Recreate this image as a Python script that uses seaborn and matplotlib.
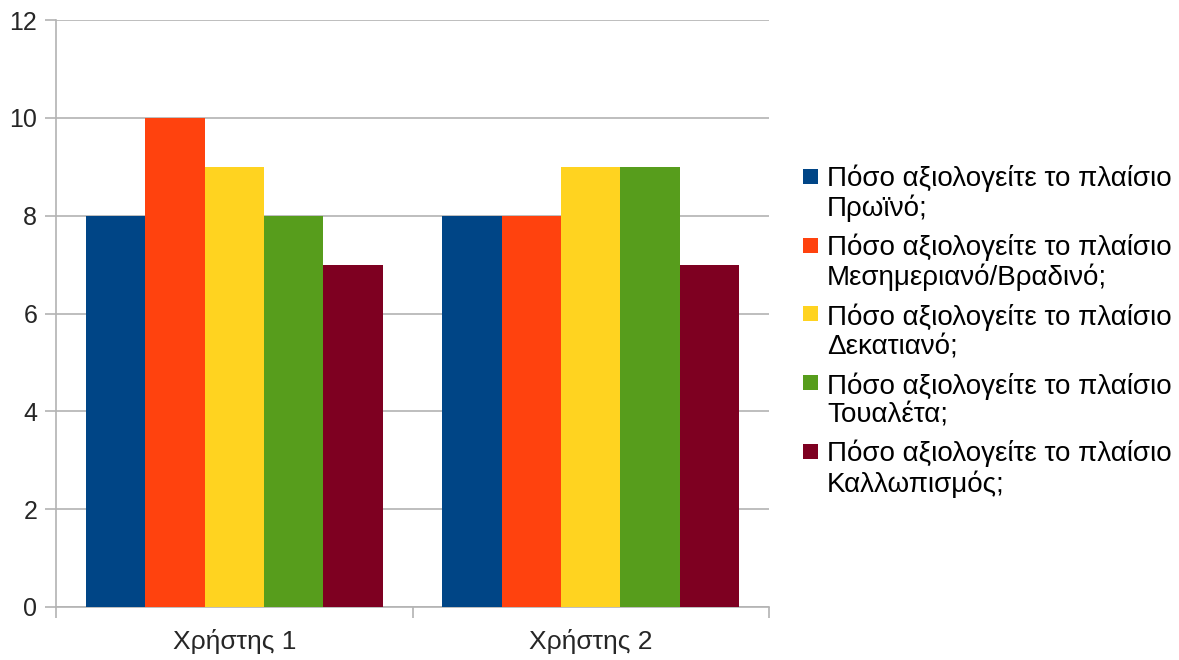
import matplotlib
matplotlib.use("Agg")
import matplotlib.pyplot as plt
from matplotlib.patches import Rectangle
import seaborn as sns
import pandas as pd

# Ratings per user for each meal/facility question
users = ["Χρήστης 1", "Χρήστης 2"]
questions = [
    "Πόσο αξιολογείτε το πλαίσιο\nΠρωϊνό;",
    "Πόσο αξιολογείτε το πλαίσιο\nΜεσημεριανό/Βραδινό;",
    "Πόσο αξιολογείτε το πλαίσιο\nΔεκατιανό;",
    "Πόσο αξιολογείτε το πλαίσιο\nΤουαλέτα;",
    "Πόσο αξιολογείτε το πλαίσιο\nΚαλλωπισμός;",
]
scores_user1 = [8, 10, 9, 8, 7]
scores_user2 = [8, 8, 9, 9, 7]
colors = ["#004586", "#ff420e", "#ffd320", "#579d1c", "#7e0021"]

rows = []
for user, scores in zip(users, [scores_user1, scores_user2]):
    for q, s in zip(questions, scores):
        rows.append({"user": user, "question": q, "score": s})
df = pd.DataFrame(rows)

sns.set_theme(style="white")
plt.rcParams["font.family"] = ["Liberation Sans", "DejaVu Sans"]

W, H = 1179, 660
fig = plt.figure(figsize=(W / 100, H / 100), dpi=100)
ax = fig.add_axes([56 / W, 1 - 607 / H, (769 - 56) / W, (607 - 20) / H])

sns.barplot(data=df, x="user", y="score", hue="question", order=users,
            hue_order=questions, palette=colors, saturation=1, width=5 / 6,
            gap=0, errorbar=None, ax=ax, linewidth=0, zorder=3, legend=False)

grid_col = "#b3b3b3"
ax.set_ylim(0, 12)
ax.set_xlim(-0.5, 1.5)
ax.set_yticks(range(0, 13, 2))
ax.yaxis.grid(True, color=grid_col, linewidth=1.2, zorder=0)
ax.set_axisbelow(True)
for side in ["top", "right"]:
    ax.spines[side].set_visible(False)
for side in ["left", "bottom"]:
    ax.spines[side].set_color(grid_col)
    ax.spines[side].set_linewidth(1.2)

# Category labels centred; tick marks on the category boundaries
ax.set_xticks([-0.5, 0.5, 1.5], minor=False)
ax.set_xticklabels([])
ax.set_xticks([0, 1], minor=True)
ax.set_xticklabels(users, minor=True, fontsize=19)
ax.tick_params(axis="x", which="major", length=8, width=1.2, color=grid_col, bottom=True)
ax.tick_params(axis="x", which="minor", length=0, pad=16)
ax.tick_params(axis="y", length=8, width=1.2, color=grid_col, left=True, labelsize=18, pad=5.5)
ax.set_xlabel("")
ax.set_ylabel("")

# Legend: coloured square beside the first line of each two-line label
for i, (col, lab) in enumerate(zip(colors, questions)):
    top = 169 + i * 68.75
    fig.patches.append(Rectangle((803 / W, 1 - (top + 15) / H), 15 / W, 15 / H,
                                 transform=fig.transFigure, facecolor=col,
                                 edgecolor="none", figure=fig))
    # baseline of the second line sits one line below the first
    fig.text(827 / W, 1 - (top + 18 + 29.5) / H, lab, fontsize=20, ha="left",
             va="baseline", linespacing=1.13, color="black")

fig.savefig("out.png", dpi=100)
